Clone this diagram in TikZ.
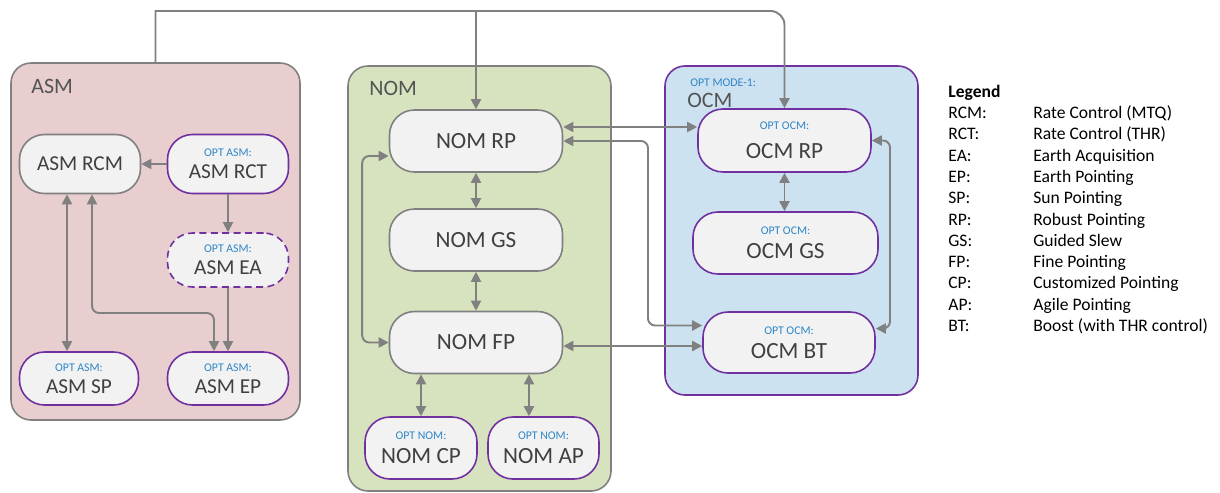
\documentclass[tikz,border=0pt]{standalone}
\usepackage{fontspec}
\setmainfont{Carlito}
\usepackage{xcolor}
\usepackage{tikz}
\usetikzlibrary{arrows.meta,positioning,calc}

\definecolor{asmfill}{RGB}{232,206,207}
\definecolor{nomfill}{RGB}{215,227,191}
\definecolor{ocmfill}{RGB}{204,226,240}
\definecolor{boxfill}{RGB}{242,242,242}
\definecolor{linegray}{RGB}{128,128,128}
\definecolor{optpurple}{RGB}{112,48,160}
\definecolor{optblue}{RGB}{46,134,200}
\definecolor{txtgray}{RGB}{64,64,64}

\newcommand{\opt}[1]{{\fontsize{6.7}{8}\selectfont\color{optblue}#1}}

\begin{document}
\begin{tikzpicture}[
  lyr/.style={rectangle, rounded corners=0.4cm, draw=linegray, line width=0.9pt, inner sep=0pt},
  box/.style={rectangle, rounded corners=0.5cm, draw=linegray, fill=boxfill, line width=0.9pt,
              inner sep=0pt, align=center, text=txtgray, font=\fontsize{13.2}{13.4}\selectfont,
              minimum width=3.46cm, minimum height=1.24cm},
  optbox/.style={box, draw=optpurple},
  asmsize/.style={font=\fontsize{12.1}{12.6}\selectfont, minimum width=2.42cm, minimum height=1.08cm},
  hdr/.style={anchor=base west, inner sep=0pt, text=txtgray!90, font=\fontsize{12.5}{13}\selectfont},
  arr/.style={-{Triangle[length=5.7pt,width=5.7pt]}, draw=linegray, line width=1.1pt},
  dbl/.style={arr, {Triangle[length=5.7pt,width=5.7pt]}-{Triangle[length=5.7pt,width=5.7pt]}},
]
\useasboundingbox (0,0) rectangle (24.4,-9.84);

%% Containers
\node[lyr, fill=asmfill, minimum width=5.78cm, minimum height=7.14cm] (asm) at (3.11,-4.83) {};
\node[lyr, fill=nomfill, minimum width=5.26cm, minimum height=8.50cm] (nom) at (9.59,-5.57) {};
\node[lyr, fill=ocmfill, draw=optpurple, minimum width=5.06cm, minimum height=6.58cm] (ocm) at (15.83,-4.61) {};
\node[hdr] (asmlbl) at (0.62,-1.86) {ASM};
\node[hdr] (nomlbl) at (7.38,-1.90) {NOM};
\node[hdr] (ocmlbl) at (13.74,-2.14) {OCM};
\node[anchor=base west, inner sep=0pt] (ocmopt) at (13.80,-1.72) {\opt{OPT MODE-1:}};

%% ASM modes
\node[box, asmsize, minimum height=1.18cm] (rcm) at (1.60,-3.28) {ASM RCM};
\node[optbox, asmsize, minimum height=1.18cm] (rct) at (4.56,-3.28) {\opt{OPT ASM:}\\ASM RCT};
\node[optbox, asmsize, dashed, dash pattern=on 4pt off 2.5pt] (ea) at (4.56,-5.20) {\opt{OPT ASM:}\\ASM EA};
\node[optbox, asmsize, minimum width=2.38cm, minimum height=1.06cm] (sp) at (1.58,-7.57) {\opt{OPT ASM:}\\ASM SP};
\node[optbox, asmsize, minimum height=1.06cm] (ep) at (4.56,-7.57) {\opt{OPT ASM:}\\ASM EP};

%% NOM modes
\node[box] (nomrp) at (9.52,-2.82) {NOM RP};
\node[box] (nomgs) at (9.52,-4.80) {NOM GS};
\node[box] (nomfp) at (9.52,-6.85) {NOM FP};
\node[optbox, minimum width=2.24cm] (nomcp) at (8.42,-8.96) {\opt{OPT NOM:}\\NOM CP};
\node[optbox, minimum width=2.22cm] (nomap) at (10.87,-8.96) {\opt{OPT NOM:}\\NOM AP};

%% OCM modes
\node[optbox, minimum height=1.26cm] (ocmrp) at (15.69,-2.81) {\opt{OPT OCM:}\\[3pt]OCM RP};
\node[optbox, minimum width=3.70cm] (ocmgs) at (15.71,-4.86) {\opt{OPT OCM:}\\OCM GS};
\node[optbox, minimum width=3.44cm, minimum height=1.22cm] (ocmbt) at (15.78,-6.85) {\opt{OPT OCM:}\\OCM BT};

%% Legend
\node[anchor=north west, inner sep=0pt, font=\fontsize{10}{12.12}\selectfont] (legend) at (18.96,-1.64)
  {\begin{tabular}{@{}p{1.70cm}@{}l@{}}
   \textbf{Legend} & \\
   RCM: & Rate Control (MTQ)\\
   RCT: & Rate Control (THR)\\
   EA:  & Earth Acquisition\\
   EP:  & Earth Pointing\\
   SP:  & Sun Pointing\\
   RP:  & Robust Pointing\\
   GS:  & Guided Slew\\
   FP:  & Fine Pointing\\
   CP:  & Customized Pointing\\
   AP:  & Agile Pointing\\
   BT:  & Boost (with THR control)
   \end{tabular}};

%% Transitions
\coordinate (top) at (0,-0.22);
\draw[arr] (asm.north) |- (nomrp.north |- top) [rounded corners=8pt] -- (ocmrp.north |- top) -- (ocmrp.north);
\draw[arr] (nomrp.north |- top) -- (nomrp.north);

\draw[arr] (rct.west) -- (rcm.east);
\draw[arr] (rct.south) -- (ea.north);
\draw[arr] (ea.south) -- (ep.north);
\draw[dbl] ([xshift=-0.26cm]rcm.south) -- ([xshift=-0.24cm]sp.north);
\draw[dbl, rounded corners=4pt] ([xshift=0.24cm]rcm.south) |- (3.0,-6.26) -| ([xshift=-0.28cm]ep.north);

\draw[dbl] (nomrp.south) -- (nomgs.north);
\draw[dbl] (nomgs.south) -- (nomfp.north);
\draw[dbl] (nomcp.north) -- (nomcp.north |- nomfp.south);
\draw[dbl] ([xshift=-0.29cm]nomap.north) -- ([xshift=-0.29cm]nomap.north |- nomfp.south);
\draw[dbl, rounded corners=4pt] ([yshift=-0.30cm]nomrp.west) -- ++(-0.53,0) |- (nomfp.west);

\draw[dbl] ([yshift=0.28cm]nomrp.east) -- ([yshift=0.28cm]nomrp.east -| ocmrp.west);
\draw[dbl, rounded corners=4pt] (nomrp.east) -- (12.96,-2.82) |- ([yshift=0.34cm]ocmbt.west);
\draw[dbl] ([yshift=-0.07cm]nomfp.east) -- ([yshift=-0.07cm]nomfp.east -| ocmbt.west);

\draw[dbl] (ocmrp.south) -- (ocmrp.south |- ocmgs.north);
\draw[dbl, rounded corners=4pt] (ocmrp.east) -- (17.80,-2.81) |- ([yshift=0.28cm]ocmbt.east);

\end{tikzpicture}
\end{document}
